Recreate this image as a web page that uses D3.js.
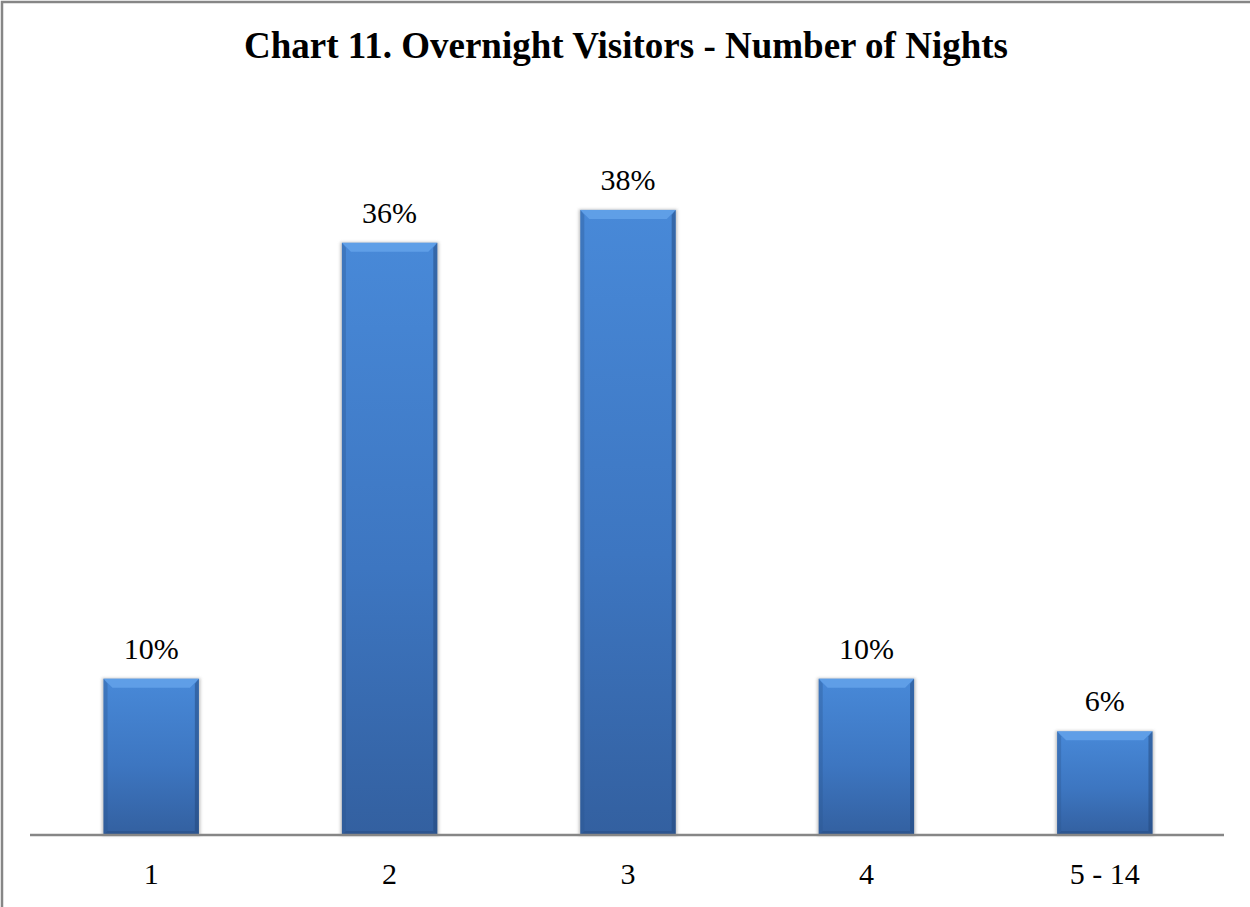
<!DOCTYPE html>
<html>
<head>
<meta charset="utf-8">
<script src="https://cdn.jsdelivr.net/npm/d3@7"></script>
<style>
  body { margin: 0; background: #fff; }
  svg { display: block; }
</style>
</head>
<body>
<svg id="chart" width="1250" height="907"></svg>
<script>
// number of nights -> share of overnight visitors (%)
var categories = ["1", "2", "3", "4", "5 - 14"];
var shares = [9.5, 36, 38, 9.5, 6.3];
var chartTitle = "Chart 11. Overnight Visitors - Number of Nights";

var svg = d3.select("#chart");
var W = 1250, H = 907;
var base = 835;
var serif = "'Liberation Serif', 'Times New Roman', serif";

// outer chart border (right/bottom fall off the page)
svg.append("rect")
    .attr("x", 2).attr("y", 2)
    .attr("width", W + 10).attr("height", H + 10)
    .attr("fill", "#fff")
    .attr("stroke", "#868686")
    .attr("stroke-width", 2.5);

svg.append("text")
    .attr("x", 626)
    .attr("y", 58)
    .attr("text-anchor", "middle")
    .style("font-family", serif)
    .style("font-weight", "bold")
    .style("font-size", "37px")
    .text(chartTitle);

var x = d3.scaleBand()
    .domain(categories)
    .range([32, 1224])
    .paddingInner(0.6)
    .paddingOuter(0.3);

var y = d3.scaleLinear()
    .domain([0, 40])
    .range([base, 177]);

var defs = svg.append("defs");
var grad = defs.append("linearGradient")
    .attr("id", "barGrad")
    .attr("x1", 0).attr("y1", 0).attr("x2", 0).attr("y2", 1);
grad.append("stop").attr("offset", "0%").attr("stop-color", "#4889d8");
grad.append("stop").attr("offset", "55%").attr("stop-color", "#3d76c1");
grad.append("stop").attr("offset", "100%").attr("stop-color", "#3360a0");

var blur = defs.append("filter").attr("id", "shadow")
    .attr("x", "-10%").attr("y", "-10%").attr("width", "120%").attr("height", "120%");
blur.append("feGaussianBlur").attr("stdDeviation", 1.5);

var bars = svg.append("g").selectAll("g")
    .data(shares)
    .join("g")
    .attr("transform", function(d, i) { return "translate(" + x(categories[i]) + ",0)"; });

var bw = x.bandwidth();

// soft shadow behind each bar
bars.append("rect")
    .attr("x", -1.5)
    .attr("y", function(d) { return y(d) - 0.5; })
    .attr("width", bw + 3)
    .attr("height", function(d) { return base - y(d) + 1; })
    .attr("fill", "#9a9a9a")
    .attr("opacity", 0.6)
    .attr("filter", "url(#shadow)");

bars.append("rect")
    .attr("x", 0)
    .attr("y", function(d) { return y(d); })
    .attr("width", bw)
    .attr("height", function(d) { return base - y(d); })
    .attr("fill", "url(#barGrad)");

// bevel: light top, darker sides and bottom
bars.append("path")
    .attr("d", function(d) {
        var t = y(d);
        return "M0," + t + "L" + bw + "," + t + "L" + (bw - 9) + "," + (t + 9) + "L9," + (t + 9) + "Z";
    })
    .attr("fill", "#6aa8ee")
    .attr("opacity", 0.7);

bars.append("path")
    .attr("d", function(d) {
        var t = y(d);
        return "M0," + t + "L4," + (t + 5) + "L4," + (base - 4) + "L0," + base + "Z";
    })
    .attr("fill", "#2c5590")
    .attr("opacity", 0.35);

bars.append("path")
    .attr("d", function(d) {
        var t = y(d);
        return "M" + bw + "," + t + "L" + (bw - 4) + "," + (t + 5) + "L" + (bw - 4) + "," + (base - 4) + "L" + bw + "," + base + "Z";
    })
    .attr("fill", "#22467a")
    .attr("opacity", 0.5);

bars.append("path")
    .attr("d", "M0," + base + "L4," + (base - 4) + "L" + (bw - 4) + "," + (base - 4) + "L" + bw + "," + base + "Z")
    .attr("fill", "#2a4f86")
    .attr("opacity", 0.6);

// data labels
bars.append("text")
    .attr("x", bw / 2)
    .attr("y", function(d) { return y(d) - 20; })
    .attr("text-anchor", "middle")
    .style("font-family", serif)
    .style("font-size", "30px")
    .text(function(d) { return Math.round(d) + "%"; });

// category axis
var axis = svg.append("g")
    .attr("transform", "translate(0," + base + ")")
    .call(d3.axisBottom(x).tickSize(0).tickPadding(0));
axis.select(".domain")
    .attr("d", "M30,0H1224")
    .attr("stroke", "#868686")
    .attr("stroke-width", 2.5);
axis.selectAll(".tick text")
    .attr("dy", null)
    .attr("y", 49)
    .attr("fill", "#000")
    .style("font-family", serif)
    .style("font-size", "30px");
</script>
</body>
</html>
